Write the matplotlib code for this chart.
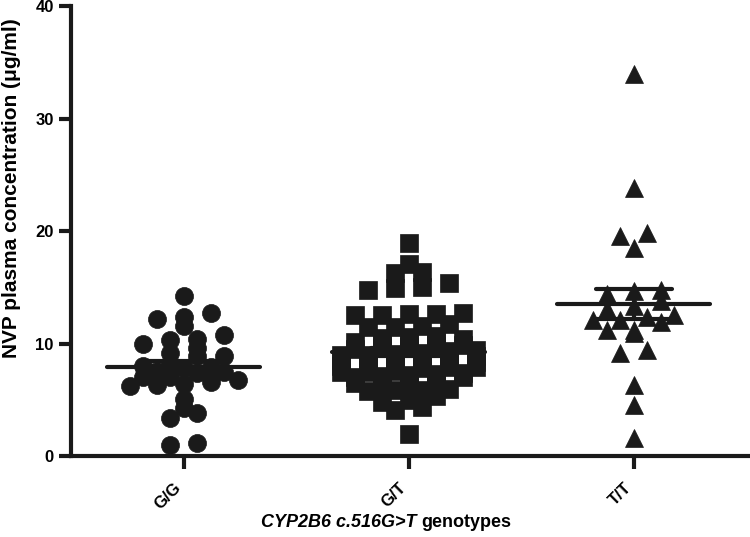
import numpy as np
import matplotlib.pyplot as plt

plt.rcParams['font.family'] = ['Liberation Sans', 'DejaVu Sans']
plt.rcParams['font.weight'] = 'bold'

# genotipos y concentraciones de NVP (ug/ml)
genotipos = ['G/G', 'G/T', 'T/T']

gg = [14.2, 12.4, 12.2, 12.7, 11.6, 10.8, 10.3, 10.4, 10.0, 9.6, 9.2,
      8.9, 8.9, 8.1, 8.0, 7.9, 7.8, 7.6, 7.5, 7.4, 7.0, 7.0, 6.8, 6.6,
      6.4, 6.3, 6.2, 5.1, 4.3, 3.8, 3.4, 1.0, 1.2]

gt = [18.9, 17.1, 16.4, 16.3, 15.4, 15.0, 14.9, 14.8,
      12.7, 12.6, 12.6, 12.5, 12.5,
      11.7, 11.6, 11.5, 11.5,
      10.7, 10.6, 10.5, 10.4, 10.4, 10.3, 10.2, 10.1,
      9.9, 9.8, 9.7, 9.6, 9.5, 9.4,
      9.3, 9.2, 9.1, 9.0, 9.0, 8.9, 8.8,
      8.7, 8.6, 8.5, 8.5, 8.4, 8.3, 8.2,
      8.1, 8.0, 8.0, 7.9, 7.9, 7.8,
      7.6, 7.5, 7.5, 7.4, 7.3, 7.2,
      7.1, 7.0, 7.0, 6.9, 6.9, 6.8,
      6.5, 6.4, 6.3, 6.2,
      6.0, 5.9, 5.9, 5.8,
      5.3, 5.0,
      4.8, 4.4, 4.1,
      2.0]

tt = [34.0, 23.8, 19.8, 19.6, 18.5, 14.8, 14.7, 14.4, 13.8, 13.3, 13.1,
      12.5, 12.4, 12.1, 12.1, 11.9, 11.2, 11.2, 10.9, 9.4, 9.2, 6.3, 4.5, 1.6]

PX_X = 225.0   # pixeles por categoria
NEGRO = '#1a1a1a'


# agrupa los valores en franjas de 1 ug/ml y los reparte a lo ancho
# (como mucho 6 por fila; si hay mas, la franja se parte en varias filas)
def desplazamientos(valores, inicio=0.0, alto=1.0, paso=27.0, maximo=6):
    valores = np.asarray(valores, float)
    franjas = np.floor((valores - inicio) / alto + 1e-9)
    offs = np.zeros(len(valores))
    for f in np.unique(franjas):
        idx = np.where(franjas == f)[0]
        idx = idx[np.argsort(valores[idx])]
        nfilas = int(np.ceil(len(idx) / maximo))
        for fila in np.array_split(idx, nfilas):
            n = len(fila)
            offs[fila] = (np.arange(n) - (n - 1) / 2) * paso / PX_X
    return offs


fig = plt.figure(figsize=(7.5, 5.37), dpi=100)
ax = fig.add_axes([0.0947, 0.1508, 0.9053, 0.838])

marcadores = ['o', 's', '^']
tamanos = [13, 13, 12.5]
inicios = [0.0, 0.5, 0.0]
for i, vals in enumerate([gg, gt, tt]):
    vals = np.array(vals)
    x = i + desplazamientos(vals, inicios[i])
    ax.plot(x, vals, ls='none', marker=marcadores[i], ms=tamanos[i],
            color=NEGRO, mec=NEGRO, mew=0.5, clip_on=False, zorder=2)
    media = vals.mean()
    sem = vals.std(ddof=1) / np.sqrt(len(vals))
    ax.hlines(media, i - 0.34, i + 0.34, color=NEGRO, lw=3,
              capstyle='round', zorder=3)
    ax.hlines([media - sem, media + sem], i - 0.17, i + 0.17, color=NEGRO,
              lw=3, capstyle='round', zorder=3)
    ax.vlines(i, media - sem, media + sem, color=NEGRO, lw=3, zorder=3)

ax.set_xlim(-0.502, 2.516)
ax.set_ylim(0, 40)
ax.set_yticks([0, 10, 20, 30, 40])
ax.set_xticks([0, 1, 2])
ax.set_xticklabels(genotipos, rotation=45, ha='right', fontsize=12,
                   fontweight='bold')
ax.tick_params(axis='both', width=3, length=9, color=NEGRO, labelsize=12)
ax.tick_params(axis='x', pad=8)

for lado in ['top', 'right']:
    ax.spines[lado].set_visible(False)
for lado in ['left', 'bottom']:
    ax.spines[lado].set_linewidth(3)
    ax.spines[lado].set_color(NEGRO)

ax.set_ylabel('NVP plasma concentration (\u03bcg/ml)', fontsize=15,
              fontweight='bold')
ax.yaxis.set_label_coords(-0.073, 0.596)

fig.text(0.555, 0.018, 'CYP2B6 c.516G>T', style='italic', fontweight='bold',
         fontsize=13, ha='right', va='baseline')
fig.text(0.562, 0.018, 'genotypes', fontweight='bold', fontsize=13,
         ha='left', va='baseline')

fig.savefig('out.png', dpi=100)
